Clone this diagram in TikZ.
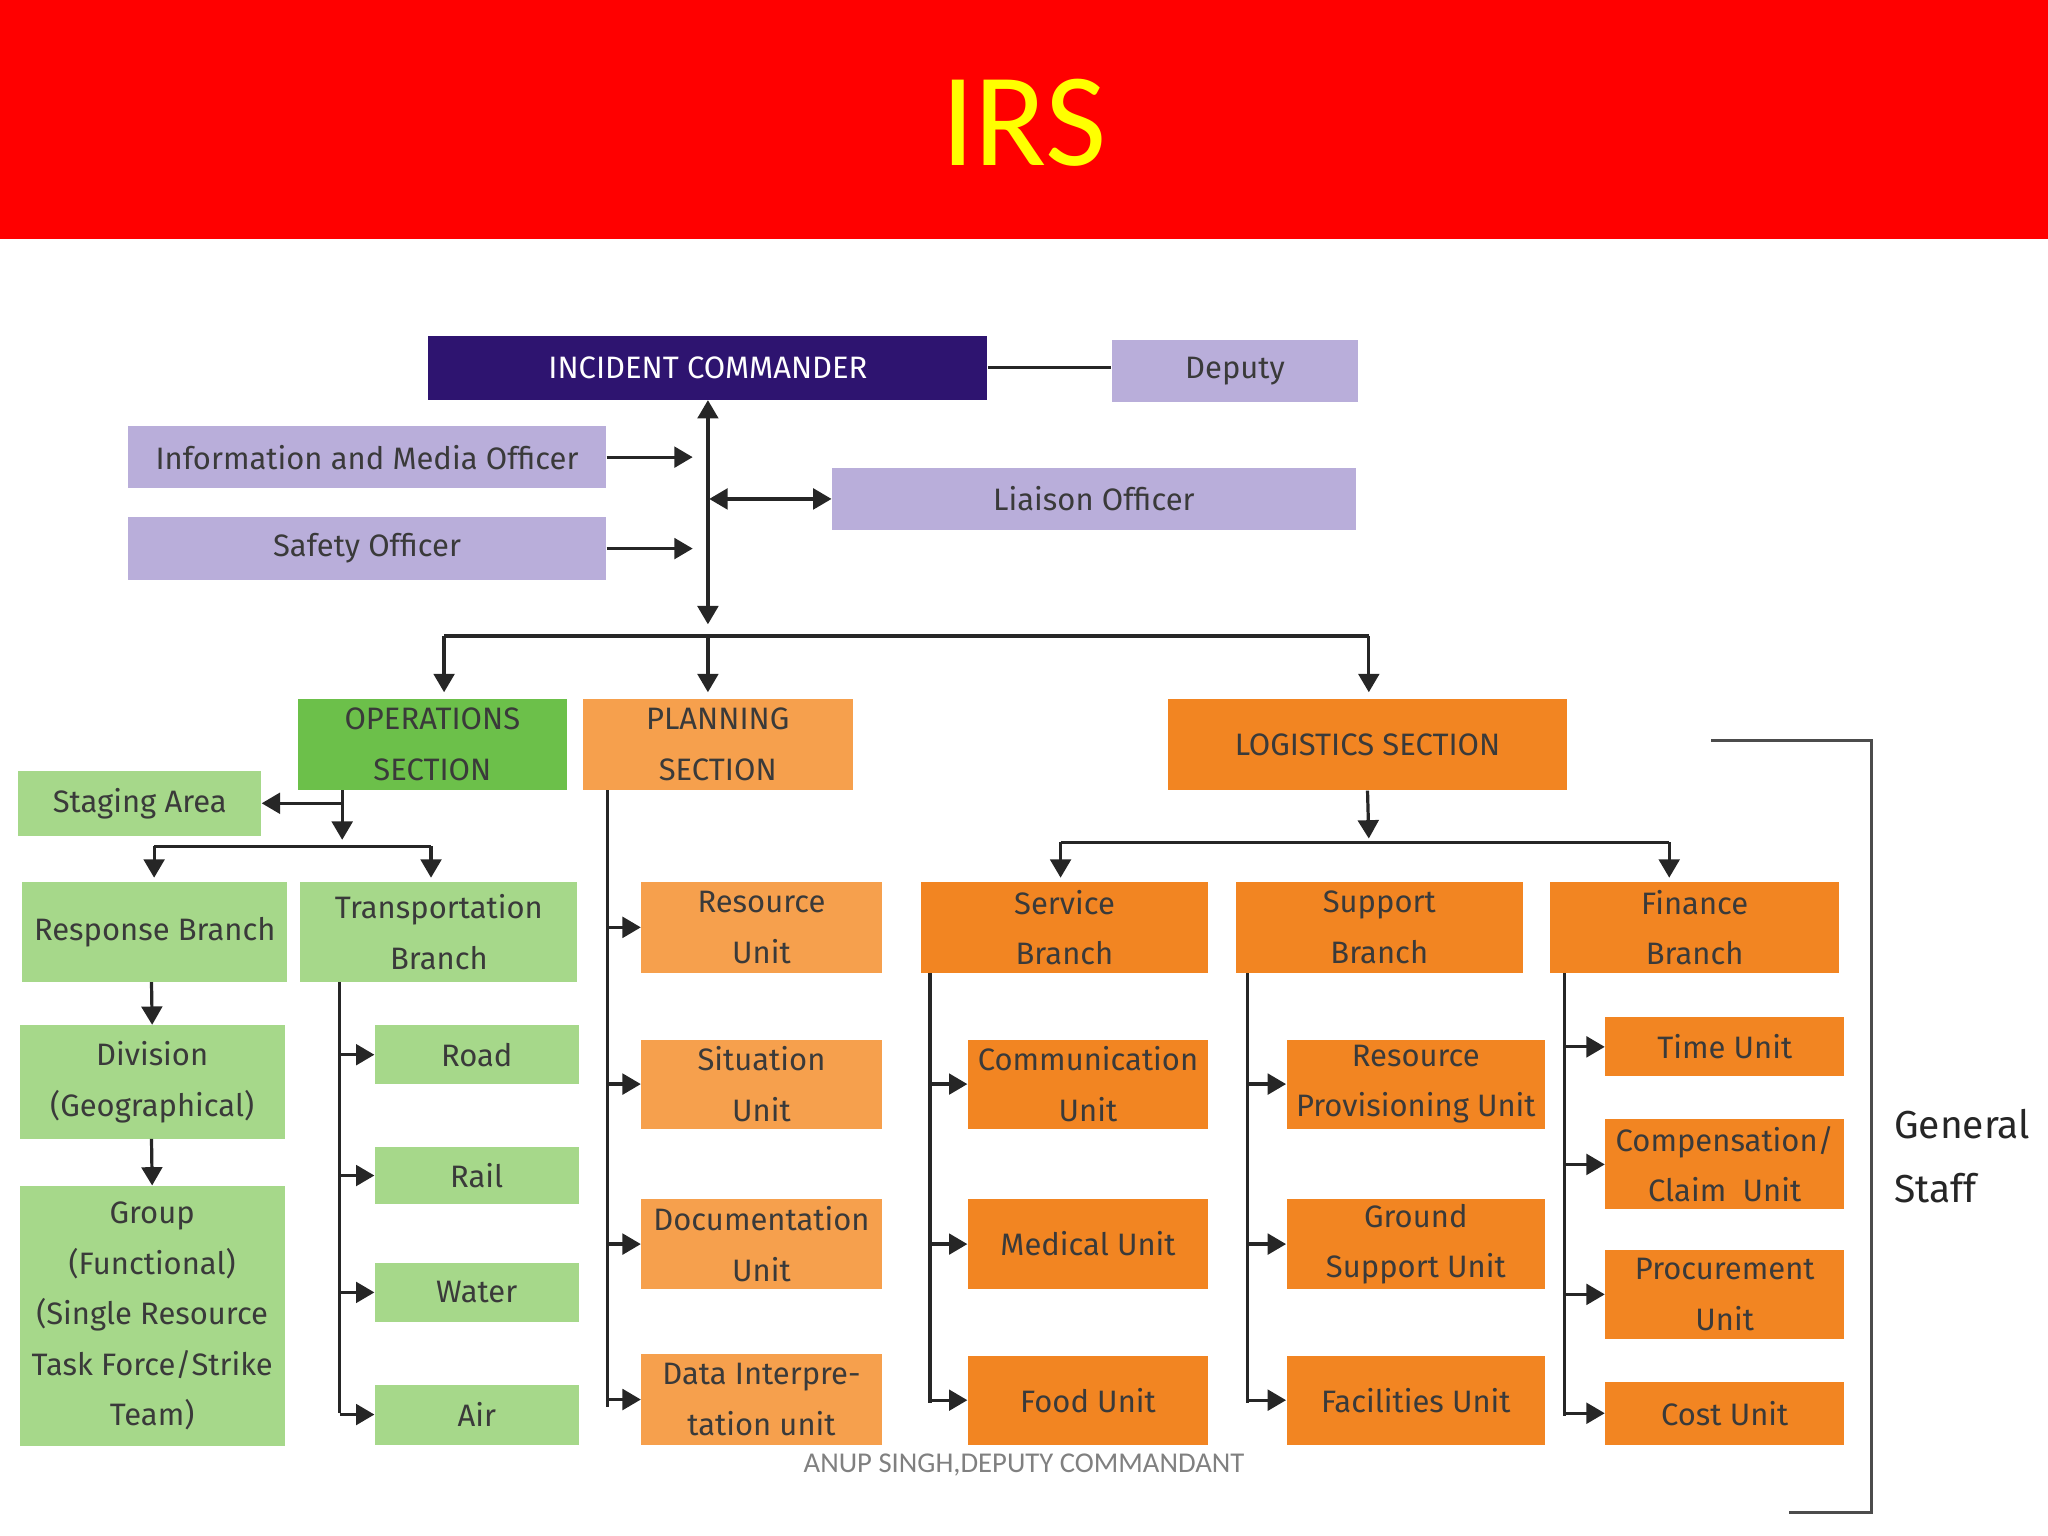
\documentclass[tikz,border=0pt]{standalone}
\usepackage{fontspec}
\setmainfont{Fira Sans}
\newfontfamily\titlefont{Carlito}
\usetikzlibrary{arrows.meta}
\definecolor{hdr}{HTML}{FF0000}
\definecolor{ttl}{HTML}{FFFF00}
\definecolor{icc}{HTML}{2E1470}
\definecolor{lav}{HTML}{B9AEDA}
\definecolor{gdk}{HTML}{6CC04A}
\definecolor{glt}{HTML}{A6D88A}
\definecolor{olt}{HTML}{F6A04D}
\definecolor{odk}{HTML}{F28522}
\definecolor{txt}{HTML}{3A3A3A}
\tikzset{
 box/.style={draw=none,inner sep=0pt,align=center,text=txt,font=\fontsize{13.5}{22}\selectfont},
 arr/.style={-{Triangle[length=8pt,width=9pt]},line width=1.4pt,draw=black!85},
 ln/.style={line width=1.4pt,draw=black!85},
}
\newcommand\bx[7]{\node[box,fill=#6,minimum width={(#4-#2)*0.02cm},minimum height={(#5-#3)*0.02cm}] (#1) at ({(#2+#4)/2},{(#3+#5)/2}) {#7};}
\begin{document}
\begin{tikzpicture}[x=0.02cm,y=-0.02cm]
\useasboundingbox (0,0) rectangle (1568,1176);
\fill[hdr] (0,0) rectangle (1568,183);
\node[text=ttl,font=\titlefont\fontsize{58}{60}\selectfont] (title) at (784,94) {IRS};
% top
\bx{ic}{328}{257}{756}{306}{icc}{\textcolor{white}{INCIDENT COMMANDER}}
\bx{dep}{851}{260}{1040}{308}{lav}{Deputy}
\bx{info}{98}{326}{464}{374}{lav}{Information and Media Officer}
\bx{saf}{98}{396}{464}{444}{lav}{Safety Officer}
\bx{lia}{637}{358}{1038}{406}{lav}{Liaison Officer}
\draw[ln] (ic.east) -- (dep.west |- ic.east);
\coordinate (tr) at (542,400);
\draw[arr] (tr) -- (ic.south);
\draw[arr] (tr) -- (542,478);
\draw[arr] (info.east) -- ++(66,0);
\draw[arr] (saf.east) -- ++(66,0);
\draw[arr,{Triangle[length=8pt,width=9pt]}-{Triangle[length=8pt,width=9pt]}] (543,382) -- (lia.west);
% sections
\bx{ops}{228}{535}{434}{605}{gdk}{OPERATIONS\\SECTION}
\bx{pla}{446}{535}{653}{605}{olt}{PLANNING\\SECTION}
\bx{log}{894}{535}{1200}{605}{odk}{LOGISTICS SECTION}
\draw[ln] (340,487) -- (1048,487);
\draw[arr] (340,487) -- (340,530);
\draw[arr] (542,487) -- (542,530);
\draw[arr] (1048,487) -- (1048,530);
% operations
\bx{stg}{14}{590}{200}{640}{glt}{Staging Area}
\bx{rsp}{17}{675}{220}{752}{glt}{Response Branch}
\bx{trn}{230}{675}{442}{752}{glt}{Transportation\\Branch}
\bx{div}{15}{785}{218}{872}{glt}{Division\\(Geographical)}
\bx{grp}{15}{908}{218}{1107}{glt}{Group\\(Functional)\\(Single Resource\\Task Force/Strike\\Team)}
\bx{road}{287}{785}{443}{830}{glt}{Road}
\bx{rail}{287}{878}{443}{922}{glt}{Rail}
\bx{water}{287}{967}{443}{1012}{glt}{Water}
\bx{air}{287}{1060}{443}{1106}{glt}{Air}
\draw[arr] (262,605) -- (262,643);
\draw[arr] (262,0 |- stg.east) -- (stg.east);
\draw[ln] (118,648) -- (330,648);
\draw[arr] (118,648) -- (118,672);
\draw[arr] (330,648) -- (330,672);
\draw[arr] (116,752) -- (div.north);
\draw[arr] (116,872) -- (grp.north);
\draw[ln] (260,752) -- (260,1082);
\foreach \n in {road,rail,water,air}{\draw[arr] (260,0 |- \n.west) -- (\n.west);}
% planning
\bx{res}{491}{675}{675}{745}{olt}{Resource\\Unit}
\bx{sit}{491}{796}{675}{864}{olt}{Situation\\Unit}
\bx{doc}{491}{918}{675}{987}{olt}{Documentation\\Unit}
\bx{dat}{491}{1037}{675}{1106}{olt}{Data Interpre-\\tation unit}
\draw[ln] (465,605) -- (465,1077);
\foreach \n in {res,sit,doc,dat}{\draw[arr] (465,0 |- \n.west) -- (\n.west);}
% logistics
\draw[arr] (log.south) -- (1048,642);
\draw[ln] (812,645) -- (1278,645);
\draw[arr] (812,645) -- (812,672);
\draw[arr] (1278,645) -- (1278,672);
\bx{svc}{705}{675}{925}{745}{odk}{Service\\Branch}
\bx{sup}{946}{675}{1166}{745}{odk}{Support\\Branch}
\bx{fin}{1187}{675}{1408}{745}{odk}{Finance\\Branch}
\bx{com}{741}{796}{925}{864}{odk}{Communication\\Unit}
\bx{med}{741}{918}{925}{987}{odk}{Medical Unit}
\bx{food}{741}{1038}{925}{1106}{odk}{Food Unit}
\bx{rpu}{985}{796}{1183}{864}{odk}{Resource\\Provisioning Unit}
\bx{gsu}{985}{918}{1183}{987}{odk}{Ground\\Support Unit}
\bx{fac}{985}{1038}{1183}{1106}{odk}{Facilities Unit}
\bx{time}{1229}{779}{1412}{824}{odk}{Time Unit}
\bx{comp}{1229}{857}{1412}{926}{odk}{Compensation/\\Claim~ Unit}
\bx{proc}{1229}{957}{1412}{1025}{odk}{Procurement\\Unit}
\bx{cost}{1229}{1058}{1412}{1106}{odk}{Cost Unit}
\draw[ln] (712,745) -- (712,1074);
\foreach \n in {com,med,food}{\draw[arr] (712,0 |- \n.west) -- (\n.west);}
\draw[ln] (955,745) -- (955,1074);
\foreach \n in {rpu,gsu,fac}{\draw[arr] (955,0 |- \n.west) -- (\n.west);}
\draw[ln] (1198,745) -- (1198,1084);
\foreach \n in {time,comp,proc,cost}{\draw[arr] (1198,0 |- \n.west) -- (\n.west);}
% bracket
\draw[line width=1.2pt,black!70] (1310,567) -- (1433,567) -- (1433,1158) -- (1370,1158);
\node[anchor=west,align=left,text=black!85,font=\fontsize{17}{28}\selectfont] (gs) at (1444,885) {General\\Staff};
\node[text=black!50,font=\titlefont\fontsize{12.5}{14}\selectfont] (foot) at (784,1122) {ANUP SINGH,DEPUTY COMMANDANT};
\end{tikzpicture}
\end{document}
